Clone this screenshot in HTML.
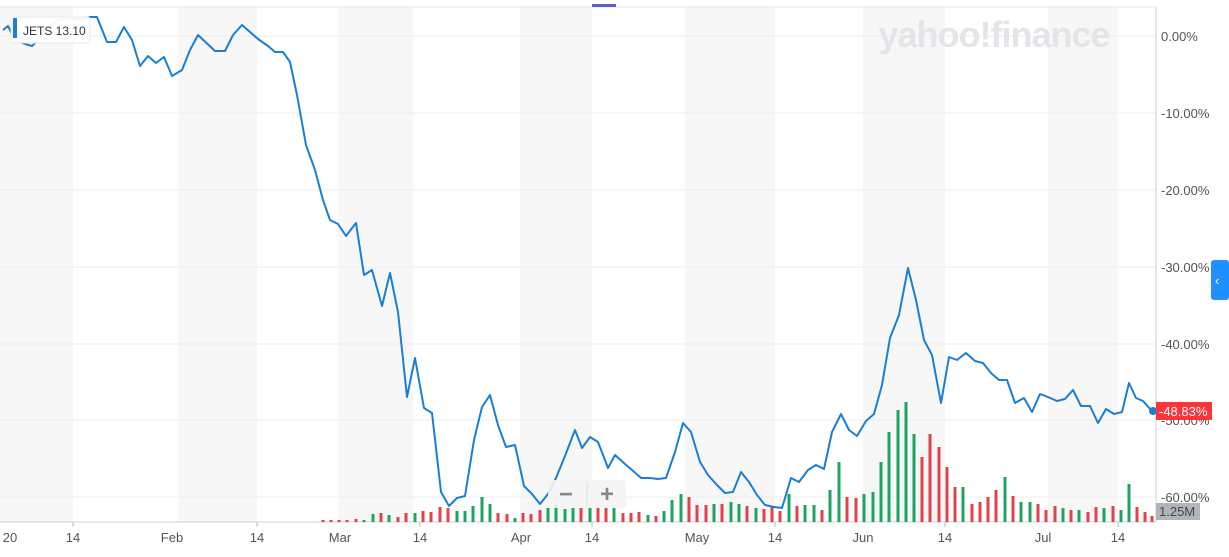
<!DOCTYPE html>
<html><head><style>
body{margin:0;background:#fff;width:1229px;height:552px;overflow:hidden;font-family:"Liberation Sans",sans-serif}
</style></head><body>
<svg width="1229" height="552" xmlns="http://www.w3.org/2000/svg" font-family="Liberation Sans, sans-serif">
<g fill="#f7f7f7">
<rect x="0" y="7" width="73" height="515"/>
<rect x="178" y="7" width="79" height="515"/>
<rect x="338" y="7" width="75" height="515"/>
<rect x="520" y="7" width="72" height="515"/>
<rect x="685" y="7" width="90" height="515"/>
<rect x="863" y="7" width="82" height="515"/>
<rect x="1048" y="7" width="70" height="515"/>
</g>
<line x1="0" y1="7" x2="1156" y2="7" stroke="#e4e4e4"/>
<g stroke="#ececec">
<line x1="0" y1="36" x2="1156" y2="36"/><line x1="0" y1="113" x2="1156" y2="113"/>
<line x1="0" y1="190" x2="1156" y2="190"/><line x1="0" y1="267" x2="1156" y2="267"/>
<line x1="0" y1="344" x2="1156" y2="344"/><line x1="0" y1="420" x2="1156" y2="420"/>
<line x1="0" y1="497" x2="1156" y2="497"/>
</g>
<text x="994" y="47" text-anchor="middle" font-size="36" font-weight="bold" fill="#e4e5e8" letter-spacing="-1">yahoo!finance</text>
<line x1="1156" y1="7" x2="1156" y2="522" stroke="#cfcfcf"/>
<line x1="0" y1="522" x2="1156" y2="522" stroke="#cfcfcf"/>
<rect x="592" y="4" width="24" height="3" fill="#5b5bd0"/>
<g id="vol"></g>
<polyline fill="none" stroke="#1a7fd4" stroke-width="2" stroke-linejoin="round" points="3,30 8,26 15,40 25,44 32,46 38,40 45,28 60,20 70,19 80,19 90,17 97,17 107,42 116,42 124,27 132,40 140,66 148,56 156,63 164,57 172,76 182,70 190,50 198,35 215,51 225,51 233,35 242,25 258,39 268,46 275,52 283,52 290,62 297,95 306,145 315,170 323,200 330,220 338,224 346,236 356,223 364,275 372,270 382,306 390,273 398,312 407,397 415,358 424,408 432,413 441,492 449,506 457,498 465,496 474,440 482,407 490,395 498,425 506,447 515,445 524,486 532,494 540,504 548,494 556,478 565,456 575,430 582,448 590,437 598,442 608,468 615,455 625,464 632,470 641,478 650,478 658,479 666,478 675,452 683,423 691,432 700,462 708,475 717,485 725,493 733,492 741,472 749,482 757,495 765,505 774,507 782,508 791,478 799,482 808,470 816,465 824,469 832,432 841,414 849,430 857,436 866,421 874,414 882,385 890,338 899,315 908,268 916,300 924,340 932,355 941,403 949,357 957,360 966,353 975,361 983,363 991,373 999,380 1007,380 1015,403 1024,398 1032,412 1040,394 1048,397 1057,401 1065,399 1073,390 1081,406 1090,406 1098,423 1106,409 1114,414 1122,412 1129,383 1136,398 1143,401 1152,411"/>
<circle cx="1153" cy="411" r="4" fill="#1a7fd4"/>
<g font-size="13" fill="#555">
<text x="1161" y="41">0.00%</text><text x="1161" y="118">-10.00%</text>
<text x="1161" y="195">-20.00%</text><text x="1161" y="272">-30.00%</text>
<text x="1161" y="349">-40.00%</text><text x="1161" y="425">-50.00%</text>
<text x="1161" y="502">-60.00%</text>
</g>
<rect x="1156" y="402" width="56" height="18" fill="#ff333a"/>
<text x="1159" y="416" font-size="13" fill="#fff">-48.83%</text>
<rect x="1156" y="503" width="44" height="17" fill="#b0b5bc"/>
<text x="1159" y="516" font-size="13" fill="#444">1.25M</text>
<rect x="1211" y="260" width="18" height="40" rx="3" fill="#1e90ff"/>
<text x="1215" y="285" font-size="13" fill="#fff">‹</text>
<g stroke="#bbb"><line x1="73" y1="522" x2="73" y2="527"/><line x1="257" y1="522" x2="257" y2="527"/><line x1="420" y1="522" x2="420" y2="527"/><line x1="592" y1="522" x2="592" y2="527"/><line x1="775" y1="522" x2="775" y2="527"/><line x1="945" y1="522" x2="945" y2="527"/><line x1="1118" y1="522" x2="1118" y2="527"/></g>
<g font-size="13" fill="#555" text-anchor="middle">
<text x="10" y="542">20</text><text x="73" y="542">14</text><text x="172" y="542">Feb</text>
<text x="257" y="542">14</text><text x="340" y="542">Mar</text><text x="420" y="542">14</text>
<text x="521" y="542">Apr</text><text x="592" y="542">14</text><text x="697" y="542">May</text>
<text x="775" y="542">14</text><text x="863" y="542">Jun</text><text x="945" y="542">14</text>
<text x="1043" y="542">Jul</text><text x="1118" y="542">14</text>
</g>
<rect x="11" y="17" width="79" height="26" rx="2" fill="#fff" stroke="#e8e8e8" opacity="0.95"/>
<rect x="13" y="18" width="4" height="20" fill="#1a7fd4"/>
<text x="23" y="35" font-size="12" fill="#333">JETS  13.10</text>
<rect x="548" y="480" width="78" height="28" rx="3" fill="#f4f4f4" opacity="0.9"/>
<line x1="587" y1="482" x2="587" y2="506" stroke="#e0e0e0"/>
<text x="566" y="502" font-size="24" font-weight="bold" fill="#888" text-anchor="middle">−</text>
<text x="607" y="502" font-size="24" font-weight="bold" fill="#888" text-anchor="middle">+</text>
</svg>
<script>
var d=[[323,2,'r'],[331,2,'r'],[339,2,'r'],[347,2,'r'],[356,3,'r'],[364,2,'g'],[373,8,'g'],[381,9,'r'],[389,7,'g'],[398,5,'r'],[406,9,'r'],[415,9,'g'],[423,11,'r'],[431,10,'r'],[440,15,'r'],[448,14,'r'],[457,11,'g'],[465,11,'g'],[473,16,'g'],[482,25,'g'],[490,18,'g'],[498,9,'r'],[507,8,'r'],[515,4,'g'],[523,9,'r'],[531,8,'r'],[540,12,'r'],[548,14,'g'],[556,17,'g'],[565,13,'g'],[573,14,'g'],[581,14,'r'],[590,14,'g'],[598,14,'r'],[606,14,'r'],[614,14,'g'],[623,9,'r'],[631,9,'r'],[639,10,'r'],[648,7,'g'],[656,6,'r'],[664,11,'g'],[672,22,'g'],[681,28,'g'],[689,25,'r'],[697,17,'r'],[706,17,'r'],[714,18,'g'],[722,18,'r'],[731,20,'g'],[739,18,'g'],[747,16,'r'],[756,14,'g'],[764,13,'r'],[772,16,'r'],[780,11,'r'],[789,28,'g'],[797,16,'r'],[805,17,'g'],[814,17,'g'],[822,12,'r'],[830,32,'g'],[839,60,'g'],[847,25,'r'],[856,24,'r'],[864,28,'g'],[873,30,'g'],[881,60,'g'],[889,90,'g'],[898,112,'g'],[906,120,'g'],[914,88,'g'],[922,65,'r'],[930,88,'r'],[939,75,'r'],[947,55,'r'],[955,35,'r'],[963,35,'g'],[972,18,'r'],[980,20,'r'],[988,25,'r'],[996,32,'r'],[1005,45,'g'],[1013,26,'r'],[1021,20,'g'],[1030,20,'g'],[1038,18,'r'],[1046,12,'r'],[1055,16,'r'],[1063,14,'g'],[1071,12,'r'],[1079,12,'g'],[1088,10,'r'],[1096,15,'r'],[1104,14,'g'],[1113,16,'r'],[1121,12,'g'],[1129,38,'g'],[1137,15,'r'],[1145,10,'r'],[1152,6,'r']];
var g=document.getElementById('vol'),s='';
d.forEach(function(b){s+='<rect x="'+(b[0]-1.5)+'" y="'+(522-b[1])+'" width="3" height="'+b[1]+'" fill="'+(b[2]=='g'?'#1da462':'#e0434c')+'"/>';});
g.innerHTML=s;
</script>
</body></html>
